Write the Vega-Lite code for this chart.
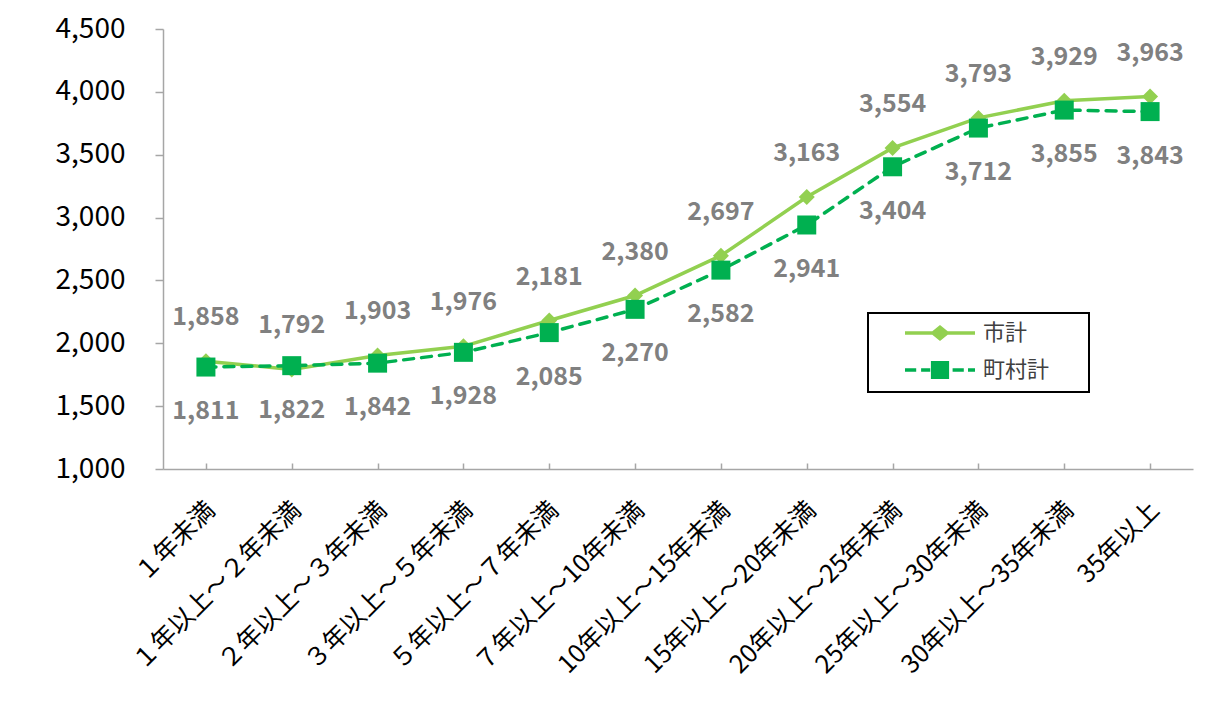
{
  "$schema": "https://vega.github.io/schema/vega-lite/v6.json",
  "width": 1030,
  "height": 440,
  "autosize": "none",
  "padding": {"left": 163, "top": 29, "right": 20, "bottom": 240},
  "background": "white",
  "config": {
    "font": "Noto Sans CJK JP",
    "view": {"stroke": null},
    "legend": {"strokeColor": "black", "strokeWidth": 2}
  },
  "data": {
    "values": [
      {"cat": "１年未満", "series": "市計", "value": 1858},
      {"cat": "１年以上～２年未満", "series": "市計", "value": 1792},
      {"cat": "２年以上～３年未満", "series": "市計", "value": 1903},
      {"cat": "３年以上～５年未満", "series": "市計", "value": 1976},
      {"cat": "５年以上～７年未満", "series": "市計", "value": 2181},
      {"cat": "７年以上～10年未満", "series": "市計", "value": 2380},
      {"cat": "10年以上～15年未満", "series": "市計", "value": 2697},
      {"cat": "15年以上～20年未満", "series": "市計", "value": 3163},
      {"cat": "20年以上～25年未満", "series": "市計", "value": 3554},
      {"cat": "25年以上～30年未満", "series": "市計", "value": 3793},
      {"cat": "30年以上～35年未満", "series": "市計", "value": 3929},
      {"cat": "35年以上", "series": "市計", "value": 3963},
      {"cat": "１年未満", "series": "町村計", "value": 1811},
      {"cat": "１年以上～２年未満", "series": "町村計", "value": 1822},
      {"cat": "２年以上～３年未満", "series": "町村計", "value": 1842},
      {"cat": "３年以上～５年未満", "series": "町村計", "value": 1928},
      {"cat": "５年以上～７年未満", "series": "町村計", "value": 2085},
      {"cat": "７年以上～10年未満", "series": "町村計", "value": 2270},
      {"cat": "10年以上～15年未満", "series": "町村計", "value": 2582},
      {"cat": "15年以上～20年未満", "series": "町村計", "value": 2941},
      {"cat": "20年以上～25年未満", "series": "町村計", "value": 3404},
      {"cat": "25年以上～30年未満", "series": "町村計", "value": 3712},
      {"cat": "30年以上～35年未満", "series": "町村計", "value": 3855},
      {"cat": "35年以上", "series": "町村計", "value": 3843}
    ]
  },
  "encoding": {
    "x": {
      "field": "cat",
      "type": "nominal",
      "sort": null,
      "scale": {"type": "point", "padding": 0.5},
      "axis": {
        "title": null,
        "labelAngle": -45,
        "labelFontSize": 25,
        "labelColor": "black",
        "labelPadding": 34,
        "labelOffset": -4,
        "labelLimit": 500,
        "domainColor": "#A6A6A6",
        "domainWidth": 1.5,
        "tickColor": "#A6A6A6",
        "tickWidth": 1.5,
        "tickSize": -6,
        "grid": false
      }
    },
    "y": {
      "field": "value",
      "type": "quantitative",
      "scale": {"domain": [1000, 4500], "nice": false, "zero": false},
      "axis": {
        "title": null,
        "values": [1000, 1500, 2000, 2500, 3000, 3500, 4000, 4500],
        "format": ",.0f",
        "labelFontSize": 28,
        "labelColor": "black",
        "labelPadding": 30,
        "domainColor": "#A6A6A6",
        "domainWidth": 1.5,
        "tickColor": "#A6A6A6",
        "tickWidth": 1.5,
        "tickSize": 8,
        "grid": false
      }
    }
  },
  "layer": [
    {
      "transform": [{"filter": "datum.series === '市計'"}],
      "mark": {"type": "line", "color": "#92D050", "strokeWidth": 3.5, "strokeCap": "round"}
    },
    {
      "transform": [{"filter": "datum.series === '町村計'"}],
      "mark": {"type": "line", "color": "#00B050", "strokeWidth": 3.5, "strokeCap": "round", "strokeDash": [10, 8]}
    },
    {
      "transform": [{"filter": "datum.series === '市計'"}],
      "mark": {"type": "point", "shape": "diamond", "filled": true, "opacity": 1, "size": 256, "color": "#92D050"}
    },
    {
      "transform": [{"filter": "datum.series === '町村計'"}],
      "mark": {"type": "point", "shape": "square", "filled": true, "opacity": 1, "size": 361, "color": "#00B050"}
    },
    {
      "transform": [{"filter": "datum.series === '市計'"}],
      "mark": {"type": "text", "dy": -44, "fontSize": 25, "fontWeight": "bold", "color": "#808080"},
      "encoding": {"text": {"field": "value", "type": "quantitative", "format": ",.0f"}}
    },
    {
      "transform": [{"filter": "datum.series === '町村計'"}],
      "mark": {"type": "text", "dy": 44, "fontSize": 25, "fontWeight": "bold", "color": "#808080"},
      "encoding": {"text": {"field": "value", "type": "quantitative", "format": ",.0f"}}
    },
    {
      "mark": {"type": "point", "filled": true, "opacity": 0},
      "encoding": {
        "color": {
          "field": "series",
          "type": "nominal",
          "scale": {"domain": ["市計", "町村計"], "range": ["#92D050", "#00B050"]},
          "legend": {
            "title": " ",
            "titleOrient": "right",
            "titlePadding": 31,
            "titleFontSize": 10,
            "orient": "none",
            "legendX": 705,
            "legendY": 284,
            "padding": 9,
            "symbolSize": 196,
            "symbolOpacity": 1,
            "symbolOffset": 24,
            "labelOffset": 60,
            "labelFontSize": 22,
            "labelColor": "#404040",
            "rowPadding": 12,
            "strokeColor": "black",
            "fillColor": "white"
          }
        },
        "shape": {
          "field": "series",
          "type": "nominal",
          "scale": {
            "domain": ["市計", "町村計"],
            "range": [
              "M-1,-0.25H2.9L4,-1.15L5.1,-0.25H9V0.25H5.1L4,1.15L2.9,0.25H-1Z",
              "M-1,-0.25H0.6V0.25H-1Z M1.3,-0.25H2.6V0.25H1.3Z M2.7,-1.3H5.3V1.3H2.7Z M5.8,-0.25H7.4V0.25H5.8Z M8,-0.25H9V0.25H8Z"
            ]
          },
          "legend": {
            "title": " ",
            "titleOrient": "right",
            "titlePadding": 31,
            "titleFontSize": 10,
            "orient": "none",
            "legendX": 705,
            "legendY": 284,
            "padding": 9,
            "symbolSize": 196,
            "symbolOpacity": 1,
            "symbolOffset": 24,
            "labelOffset": 60,
            "labelFontSize": 22,
            "labelColor": "#404040",
            "rowPadding": 12,
            "strokeColor": "black",
            "fillColor": "white"
          }
        }
      }
    }
  ]
}
